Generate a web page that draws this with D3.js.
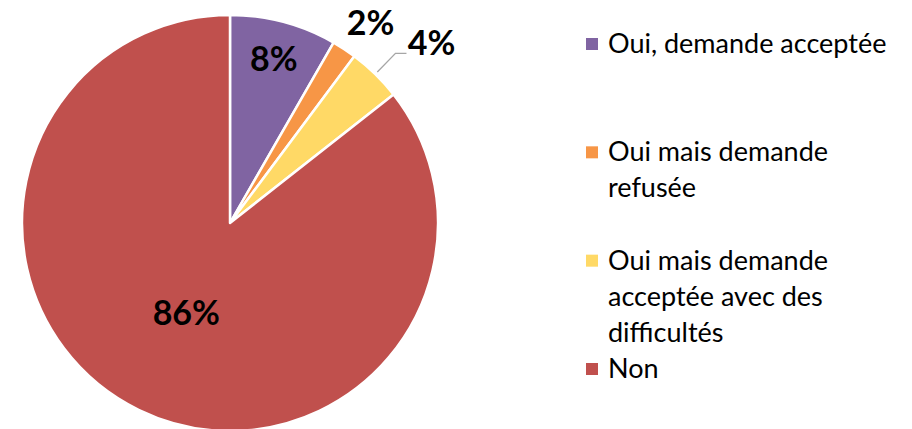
<!DOCTYPE html>
<html>
<head>
<meta charset="utf-8">
<script src="https://cdn.jsdelivr.net/npm/d3@7"></script>
<style>
  body { margin: 0; background: #fff; }
  text { font-family: Lato, "Open Sans", sans-serif; }
</style>
</head>
<body>
<div id="chart"></div>
<script>
// data
var categories = ["Oui, demande acceptée", "Oui mais demande\nrefusée", "Oui mais demande\nacceptée avec des\ndifficultés", "Non"]
var values = [8.3, 1.9, 4.2, 85.6]
var colors = ["#8064A2", "#F79646", "#FFD966", "#C0504D"]

var width = 912, height = 429
var cx = 230, cy = 223, radius = 208

var svg = d3.select("#chart").append("svg")
	.attr("width", width)
	.attr("height", height)

var data = categories.map((c, i) => ({ name: c, value: values[i], color: colors[i] }))

var pie = d3.pie()
	.sort(null)
	.value(d => d.value)

var arc = d3.arc()
	.innerRadius(0)
	.outerRadius(radius)

var arcs = pie(data)

var g = svg.append("g")
	.attr("transform", "translate(" + cx + "," + cy + ")")

g.selectAll(".slice")
	.data(arcs)
	.enter()
	.append("path")
	.classed("slice", true)
	.attr("d", arc)
	.attr("fill", d => d.data.color)
	.attr("stroke", "#fff")
	.attr("stroke-width", 2.5)
	.attr("stroke-linejoin", "round")

// label radius and angle nudge for each slice (inside for large, outside for small)
var labelRadius = [170, 245, 272, 100]
var labelNudge = [0, 0.03, 0, 0]
function polar(a, r) {
	return [Math.sin(a) * r, -Math.cos(a) * r]
}

// leader line for the 4% slice
var a4 = (arcs[2].startAngle + arcs[2].endAngle) / 2
var p1 = polar(a4, radius + 3)
var p2 = polar(a4, radius + 29)
g.append("polyline")
	.attr("points", [p1, p2, [p2[0] + 11, p2[1]]].map(p => p.join(",")).join(" "))
	.attr("fill", "none")
	.attr("stroke", "#a6a6a6")
	.attr("stroke-width", 1.3)

g.selectAll(".lbl")
	.data(arcs)
	.enter()
	.append("text")
	.classed("lbl", true)
	.attr("transform", (d, i) => {
		var a = (d.startAngle + d.endAngle) / 2 + labelNudge[i]
		var p = polar(a, labelRadius[i])
		if (i == 2) p = [p2[0] + 36, p2[1] - 11]
		return "translate(" + p[0] + "," + p[1] + ")"
	})
	.attr("text-anchor", "middle")
	.attr("dy", "0.36em")
	.attr("font-size", 34)
	.attr("font-weight", "bold")
	.attr("fill", "#000")
	.text(d => Math.round(d.value) + "%")

// legend
var ly = d3.scalePoint()
	.domain(categories)
	.range([44, 369])

var legend = svg.append("g")

var item = legend.selectAll(".item")
	.data(data)
	.enter()
	.append("g")
	.classed("item", true)
	.attr("transform", d => "translate(586," + ly(d.name) + ")")

item.append("rect")
	.attr("x", 0)
	.attr("y", -6)
	.attr("width", 12)
	.attr("height", 12)
	.attr("fill", d => d.color)

item.append("text")
	.attr("x", 22)
	.attr("y", 9)
	.attr("font-size", 27)
	.attr("fill", "#000")
	.selectAll("tspan")
	.data(d => d.name.split("\n"))
	.enter()
	.append("tspan")
	.attr("x", 22)
	.attr("dy", (d, i) => i == 0 ? 0 : 36)
	.text(d => d)
</script>
</body>
</html>
